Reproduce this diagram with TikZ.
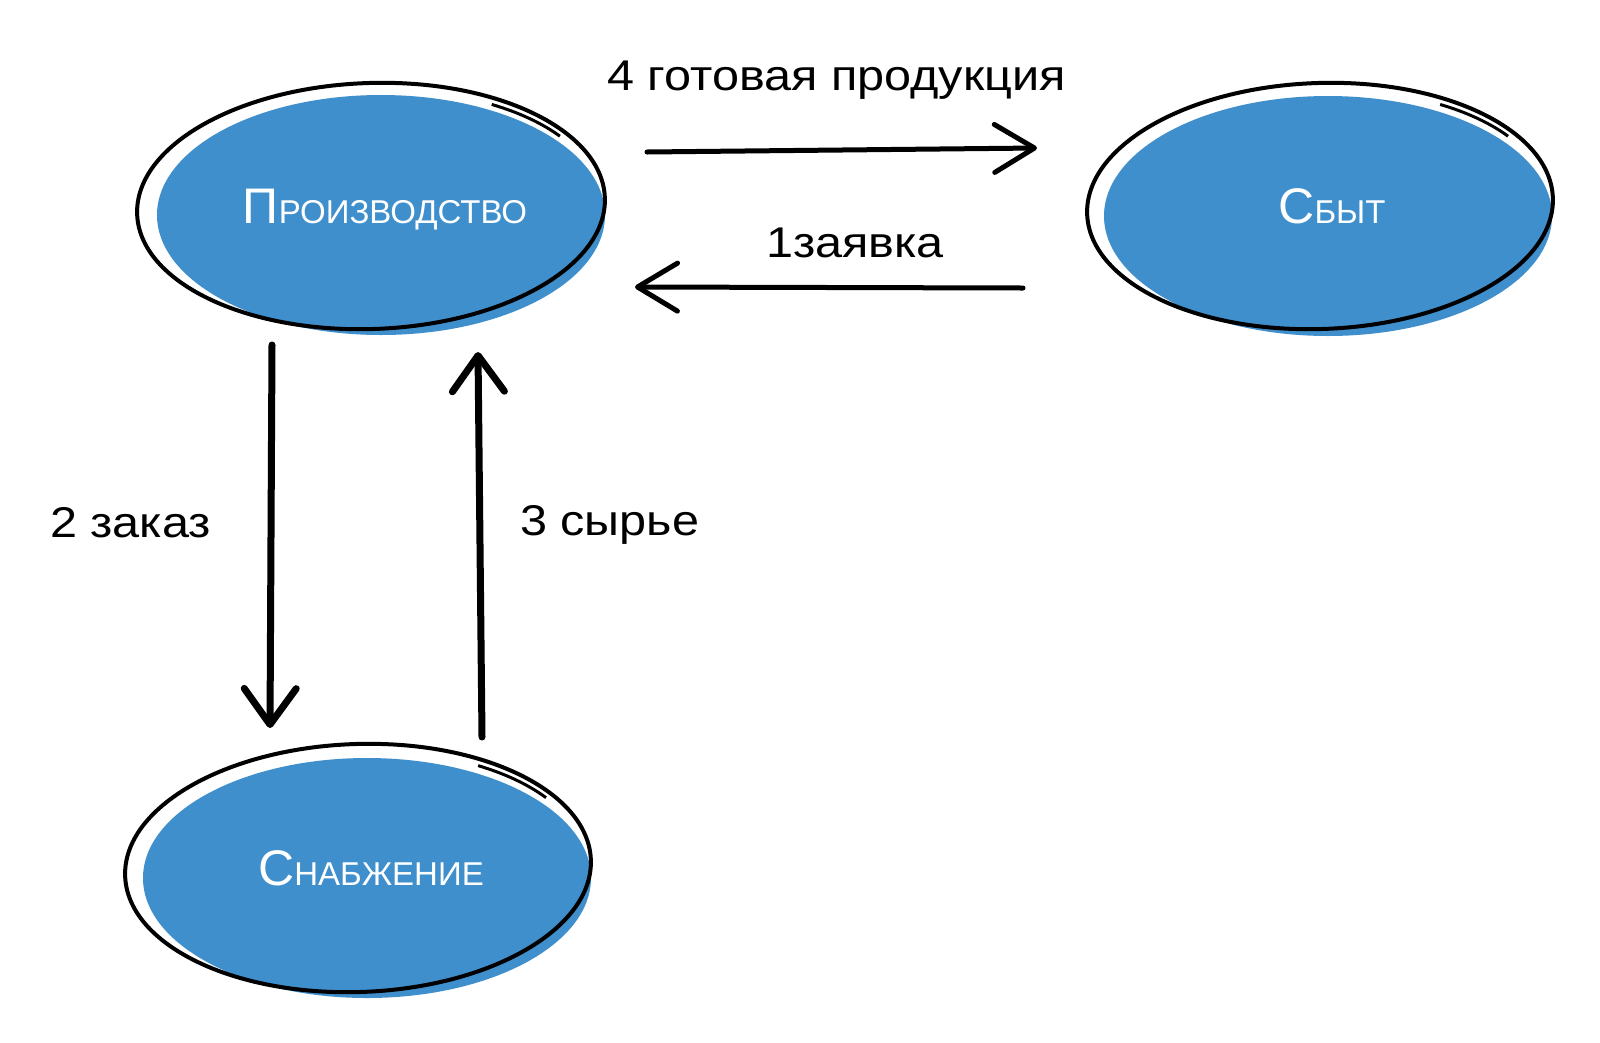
\documentclass[tikz,border=0pt]{standalone}
\usepackage{fontspec}
\setmainfont{Liberation Sans}
\newfontfamily\lblfont[FakeStretch=1.13]{Liberation Sans}
\usetikzlibrary{shapes.geometric,arrows.meta,calc}
\definecolor{nodeblue}{HTML}{3F8FCD}
\newcommand\capL[1]{{\fontsize{50}{60}\selectfont #1}}
\newcommand\smcL[1]{{\fontsize{33}{40}\selectfont #1}}
\tikzset{
  blob/.style={ellipse, fill=nodeblue, draw=none, minimum width=448pt, minimum height=240pt, inner sep=0pt},
  ring/.style={draw=black, line width=4pt},
  hflow/.style={line width=5pt, line cap=round, -{Straight Barb[length=40pt,width=48pt,round]}},
  vflow/.style={line width=7pt, line cap=round, -{Straight Barb[length=36pt,width=52pt,round]}},
  lbl/.style={font=\lblfont\fontsize{43}{50}\selectfont, anchor=base west, inner sep=0pt},
  nlbl/.style={text=white, anchor=base, inner sep=0pt},
}
\begin{document}
\begin{tikzpicture}[x=1pt,y=-1pt]
\useasboundingbox[fill=white] (0,0) rectangle (1600,1042);

% blue ellipses
\node[blob] (prod) at (381,215) {};
\node[blob] (sbyt) at (1328,216) {};
\node[blob] (snab) at (367,878) {};

% sketchy outlines
\begin{scope}[rotate around={2:(371,206)}]
  \draw[ring] (371,206) ellipse [x radius=234pt, y radius=123pt];
  \draw[ring, line width=3pt] ($(371,206)+(57:228pt and 116pt)$) arc [start angle=57, end angle=33, x radius=228pt, y radius=116pt];
\end{scope}
\begin{scope}[rotate around={2:(1320,206)}]
  \draw[ring] (1320,206) ellipse [x radius=233pt, y radius=123pt];
  \draw[ring, line width=3pt] ($(1320,206)+(57:227pt and 116pt)$) arc [start angle=57, end angle=33, x radius=227pt, y radius=116pt];
\end{scope}
\begin{scope}[rotate around={2:(358,868)}]
  \draw[ring] (358,868) ellipse [x radius=233pt, y radius=124pt];
  \draw[ring, line width=3pt] ($(358,868)+(57:227pt and 117pt)$) arc [start angle=57, end angle=33, x radius=227pt, y radius=117pt];
\end{scope}

% node texts
\node[nlbl] (prodtxt) at (385,223) {\capL{П}\smcL{РОИЗВОДСТВО}};
\node[nlbl] (sbyttxt) at (1332,223) {\capL{С}\smcL{БЫТ}};
\node[nlbl] (snabtxt) at (371,885) {\capL{С}\smcL{НАБЖЕНИЕ}};

% connector end points
\coordinate (a1s) at (647,152);
\coordinate (a1e) at (1037,148);
\coordinate (a2s) at (1023,288);
\coordinate (a2e) at (635,287);
\coordinate (a3s) at (272,345);
\coordinate (a3e) at (270,728);
\coordinate (a4s) at (482,737);
\coordinate (a4e) at (478,352);

\draw[hflow] (a1s) -- (a1e);
\draw[hflow] (a2s) -- (a2e);
\draw[vflow] (a3s) -- (a3e);
\draw[vflow] (a4s) -- (a4e);

% labels
\node[lbl] (l4) at (607,90) {4 готовая продукция};
\node[lbl] (l1) at (766,257) {1заявка};
\node[lbl] (l2) at (50,537) {2 заказ};
\node[lbl] (l3) at (520,535) {3 сырье};
\end{tikzpicture}
\end{document}
